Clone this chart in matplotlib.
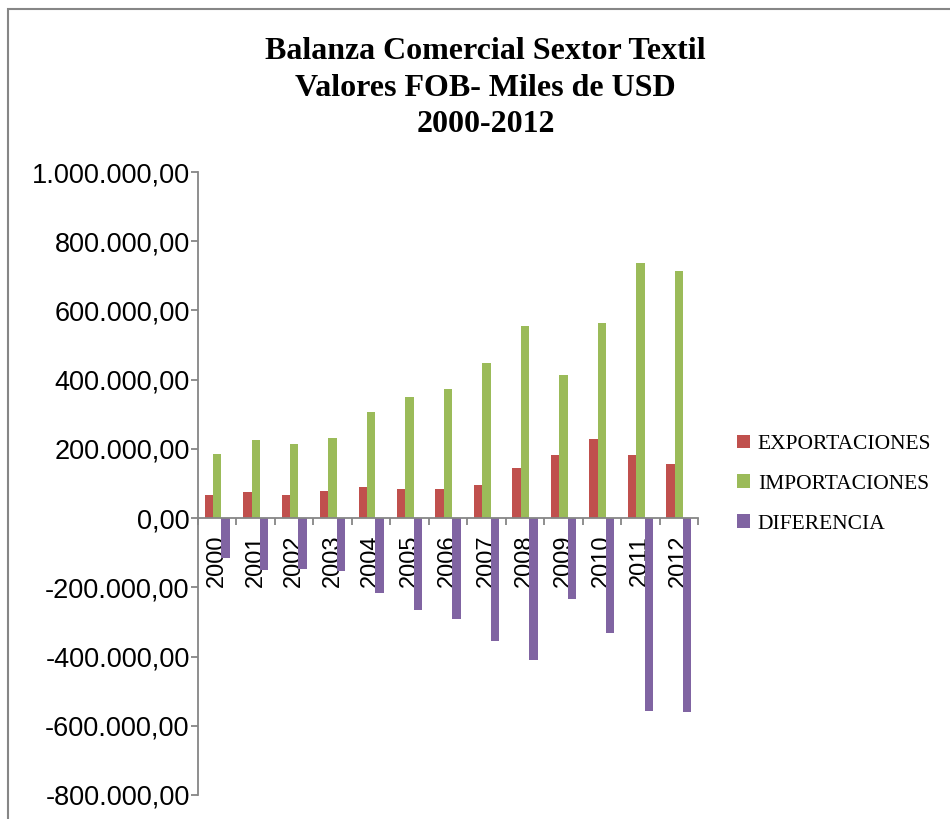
import matplotlib
matplotlib.use('Agg')
import matplotlib.pyplot as plt
import matplotlib.ticker as tkr
import matplotlib.patches as mpatches
import numpy as np

# Balanza comercial sector textil, miles de USD
years = ['2000', '2001', '2002', '2003', '2004', '2005', '2006',
         '2007', '2008', '2009', '2010', '2011', '2012']
exportaciones = [67400, 74200, 66500, 78000, 89600, 84800, 82900,
                 94400, 145500, 181100, 229300, 181100, 155100]
importaciones = [184000, 224500, 214800, 232200, 306400, 350700, 373800,
                 448900, 554900, 414300, 562600, 737000, 714800]
diferencia = [-116600, -150300, -148300, -154200, -216800, -265900, -290900,
              -354500, -409400, -233200, -333300, -555900, -559700]

series = [('EXPORTACIONES', exportaciones, '#C0504D'),
          ('IMPORTACIONES', importaciones, '#9BBB59'),
          ('DIFERENCIA', diferencia, '#8064A2')]

fig = plt.figure(figsize=(9.5, 8.19), dpi=100)
ax = fig.add_axes([198 / 950, 24 / 819, 500 / 950, 623 / 819])

x = np.arange(len(years))
w = 0.218
for i, (name, vals, col) in enumerate(series):
    ax.bar(x + (i - 1) * w, vals, width=w, color=col, label=name, zorder=2)

ax.set_xlim(-0.5, len(years) - 0.5)
ax.set_ylim(-800000, 1000000)
ax.yaxis.set_major_locator(tkr.MultipleLocator(200000))
ax.yaxis.set_major_formatter(tkr.FuncFormatter(
    lambda v, p: format(v, ',.2f').replace(',', 'X').replace('.', ',').replace('X', '.')))

grey = '#868686'
for s in ['top', 'right']:
    ax.spines[s].set_visible(False)
ax.spines['left'].set_color(grey)
ax.spines['left'].set_linewidth(1.3)
ax.spines['bottom'].set_position(('data', 0))
ax.spines['bottom'].set_color(grey)
ax.spines['bottom'].set_linewidth(1.3)
ax.spines['bottom'].set_zorder(3)

ax.set_xticks(x)
ax.set_xticklabels(years, rotation=90, va='top', ha='center',
                   fontsize=17, family='Liberation Sans')
ax.set_xticks(np.arange(-0.5, len(years)), minor=True)
ax.tick_params(axis='x', which='major', length=0, pad=12)
ax.tick_params(axis='x', which='minor', length=5, width=1.3, color=grey,
               direction='out')

ax.tick_params(axis='y', which='major', length=5, width=1.3, color=grey,
               labelsize=19.5, pad=1)
for lab in ax.get_yticklabels():
    lab.set_family('Liberation Sans')

fig.text(0.511, (819 - 88) / 819,
         'Balanza Comercial Sextor Textil\nValores FOB- Miles de USD\n2000-2012',
         ha='center', va='center', fontsize=23, fontweight='bold',
         family='Liberation Serif', linespacing=1.34)

ax.legend(loc='center left', bbox_to_anchor=(1.04, 0.499), frameon=False,
          prop={'family': 'Liberation Serif', 'size': 15.5},
          handlelength=0.6, handleheight=0.6, handletextpad=0.35,
          labelspacing=0.95)

fig.patches.append(mpatches.Rectangle((8 / 950, -0.1), 2, (819 - 9) / 819 + 0.1,
                                      transform=fig.transFigure, fill=False,
                                      edgecolor=grey, lw=1.5))

fig.savefig('out.png', dpi=100)
